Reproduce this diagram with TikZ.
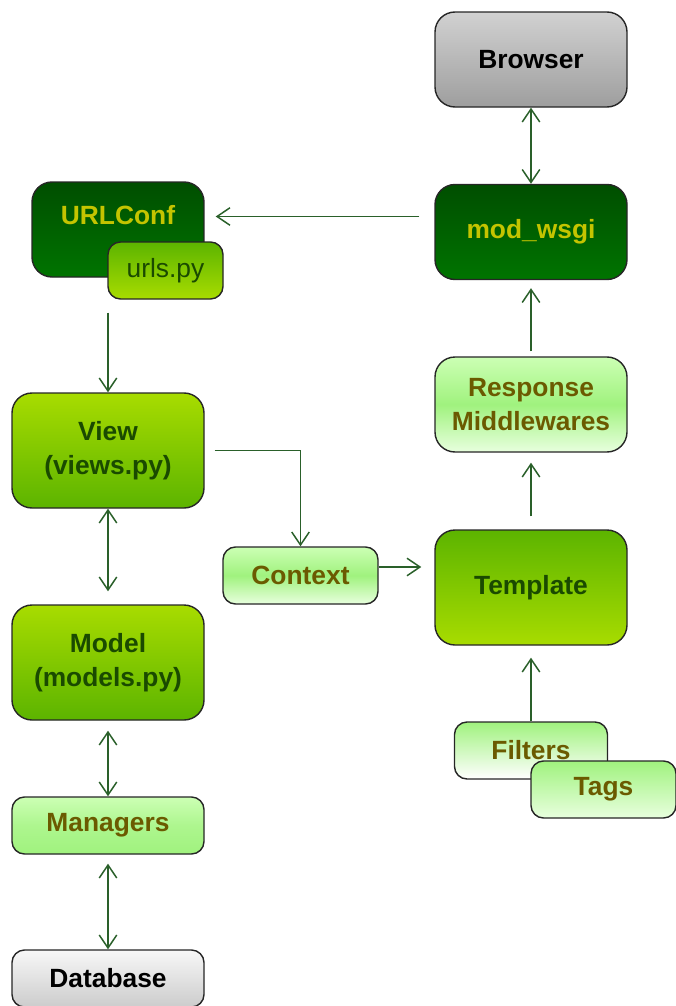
\documentclass[tikz,border=0pt]{standalone}
\usepackage{fontspec}
\setmainfont{Liberation Sans}
\usetikzlibrary{arrows.meta,positioning}
\definecolor{linkG}{HTML}{2A602A}
\definecolor{darkTop}{HTML}{004E00}
\definecolor{darkBot}{HTML}{007400}
\definecolor{midLight}{HTML}{A8DC00}
\definecolor{midDark}{HTML}{5CB400}
\definecolor{paleTop}{HTML}{CCFFB4}
\definecolor{paleMid}{HTML}{A0F27E}
\definecolor{paleBot}{HTML}{E8FFDE}
\definecolor{yellowTxt}{HTML}{C4C400}
\definecolor{greenTxt}{HTML}{1A4A00}
\definecolor{oliveTxt}{HTML}{6B5A00}
\tikzstyle{recNode} = [rectangle, minimum width=3.84cm, minimum height=1.9cm, text centered, align=center, rounded corners=0.4cm, draw=black!85, line width=0.8pt, font=\fontsize{15}{19}\selectfont\bfseries]
\tikzstyle{recNodeD} = [recNode, top color=darkTop, bottom color=darkBot, text=yellowTxt]
\tikzstyle{recNodeG} = [recNode, minimum height=2.3cm, top color=midLight, bottom color=midDark, text=greenTxt]
\tikzstyle{recNodeL} = [recNode, minimum height=1.14cm, rounded corners=0.25cm, top color=paleTop, bottom color=paleBot, middle color=paleMid, text=oliveTxt]
\tikzstyle{recNodeS} = [recNode, text=black]
\tikzstyle{arrowG} = [->, >={Straight Barb[length=7.4pt,width=10pt]}, line width=0.85pt, draw=linkG]

\begin{document}
\begin{tikzpicture}[node distance=3.45cm]
        \useasboundingbox (0,0) rectangle (13.52,-20.12);
        % right column
        \node (browser) [recNodeS, top color=black!18, bottom color=black!38] at (10.62,-1.19) {Browser};
        \node (wsgi) [recNodeD, below of=browser] {mod\_wsgi};
        \node (resp) [recNodeL, below of=wsgi, minimum height=1.9cm, rounded corners=0.4cm] {Response\\Middlewares};
        \node (tmpl) [recNodeG, below of=resp, yshift=-0.21cm, top color=midDark, bottom color=midLight] {Template};
        \node (filters) [recNodeL, below of=tmpl, yshift=0.19cm, minimum width=3.06cm, top color=paleMid, bottom color=white] {Filters};
        \node (tags) [recNodeL, minimum width=2.9cm, top color=paleMid, bottom color=paleBot] at (12.07,-15.79) {Tags};

        % left column
        \node (urlconf) [recNodeD, minimum width=3.44cm, text depth=0.58cm] at (2.36,-4.59) {URLConf};
        \node (urls) [recNodeG, minimum width=2.3cm, minimum height=1.14cm, rounded corners=0.25cm, top color=midDark, bottom color=midLight, font=\fontsize{15}{17}\selectfont] at (3.31,-5.41) {urls.py};
        \node (view) [recNodeG, below of=urlconf, xshift=-0.2cm, yshift=-0.97cm] {View\\(views.py)};
        \node (model) [recNodeG, below of=view, yshift=-0.79cm] {Model\\(models.py)};
        \node (managers) [recNodeL, below of=model, yshift=0.19cm, top color=paleTop, bottom color=paleMid, middle color=paleMid!70!paleTop] {Managers};
        \node (db) [recNodeS, below of=managers, yshift=0.39cm, minimum height=1.14cm, rounded corners=0.25cm, top color=black!3, bottom color=black!20] {Database};

        \node (context) [recNodeL, minimum width=3.1cm] at (6.01,-11.51) {Context};

        \coordinate (wsgiOut) at ([yshift=0.31cm]wsgi.west);
        \coordinate (ctxOut) at ([yshift=0.17cm]context.east);

        \draw [arrowG, <->] (browser) -- (wsgi);
        \draw [arrowG, shorten <=0.3cm, shorten >=0.22cm] (wsgiOut) -- (wsgiOut -| urlconf.east);
        \draw [arrowG, shorten <=0.26cm] (view.north |- urls.south) -- (view.north);
        \draw [arrowG, shorten <=0.2cm] (view.east) -| (context.north);
        \draw [arrowG, <->, shorten >=0.26cm] (view) -- (model);
        \draw [arrowG, <->, shorten <=0.2cm] (model) -- (managers);
        \draw [arrowG, <->, shorten <=0.18cm] (managers) -- (db);
        \draw [arrowG, shorten >=0.26cm] (ctxOut) -- (ctxOut -| tmpl.west);
        \draw [arrowG, shorten <=0.26cm, shorten >=0.2cm] (tmpl) -- (resp);
        \draw [arrowG, shorten <=0.1cm, shorten >=0.16cm] (resp) -- (wsgi);
        \draw [arrowG, shorten >=0.24cm] (filters.north) -- (tmpl.south);

    \end{tikzpicture}
\end{document}
